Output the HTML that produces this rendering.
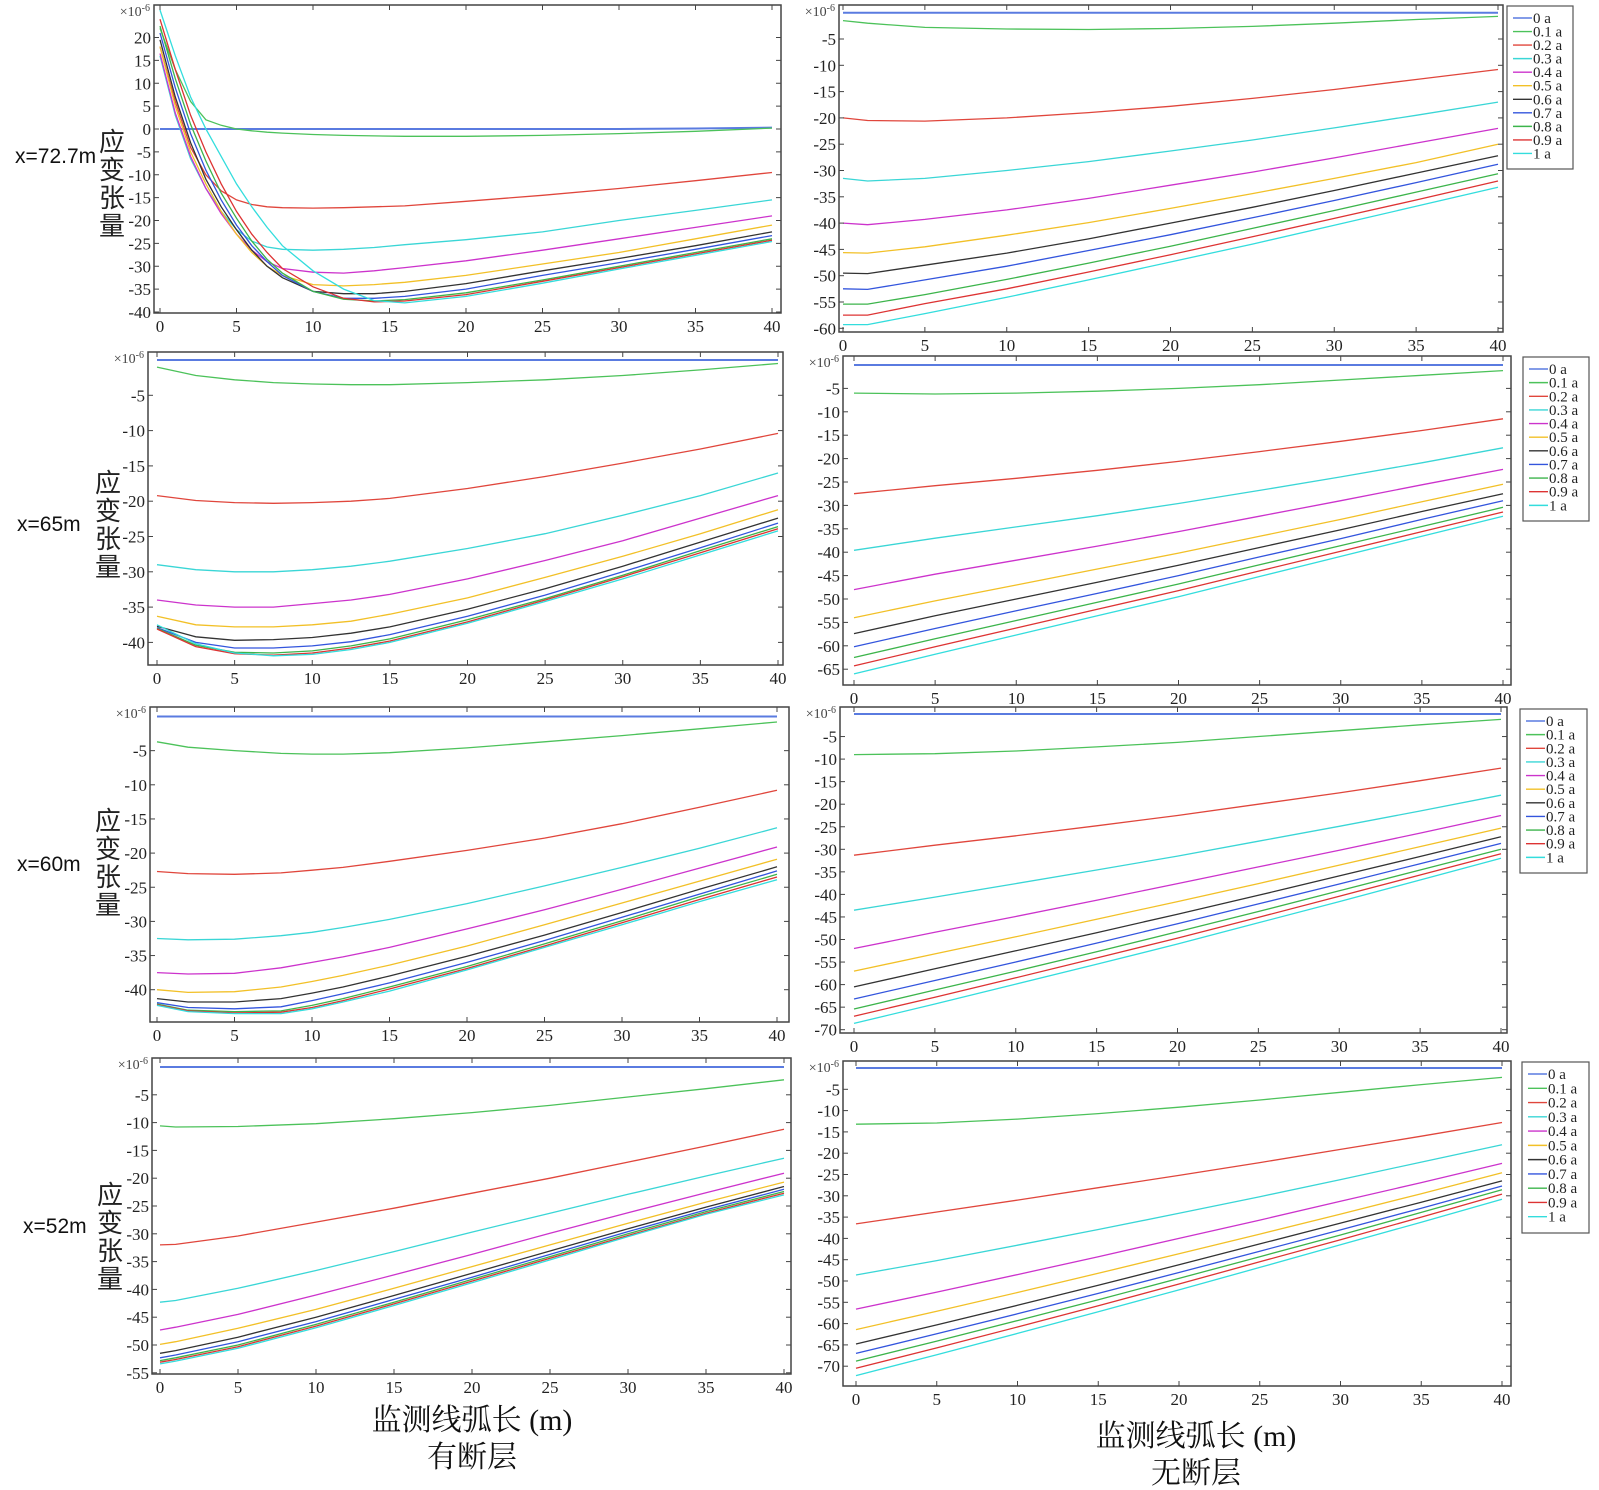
<!DOCTYPE html>
<html><head><meta charset="utf-8"><style>
html,body{margin:0;padding:0;background:#fff;}
svg{display:block;}
text{font-family:"Liberation Serif","Noto Serif CJK SC",serif;}
.cn{font-family:"Liberation Sans","Noto Sans CJK SC",sans-serif;}
</style></head><body>
<svg id="fig" width="1599" height="1490" viewBox="0 0 1599 1490" xmlns="http://www.w3.org/2000/svg"></svg>
<script>
const seriesNames=["0 a","0.1 a","0.2 a","0.3 a","0.4 a","0.5 a","0.6 a","0.7 a","0.8 a","0.9 a","1 a"];
const seriesColors=["#5a7be0","#4cc25a","#e0463c","#3ad6d6","#cc33cc","#f2c027","#333333","#3355dd","#3cb44b","#dd3333","#33dddd"];
const xTicks=[0,5,10,15,20,25,30,35,40];

const p1X=[0,1,2,3,4,5,6,7,8,10,12,14,16,20,25,30,35,40];
const p1Y=[
[0,0,0,0,0,0,0,0,0,0,0,0,0,0,0,0,0.1,0.3],
[22,13,6,2,0.8,0,-0.4,-0.7,-0.9,-1.2,-1.4,-1.5,-1.6,-1.6,-1.4,-1,-0.5,0.2],
[18,6,-4,-10,-13.5,-15.5,-16.5,-17,-17.2,-17.3,-17.2,-17,-16.8,-15.8,-14.5,-13,-11.3,-9.5],
[16,3,-6.5,-13,-18,-22,-24.5,-25.8,-26.3,-26.5,-26.3,-25.9,-25.3,-24.2,-22.5,-20,-17.8,-15.5],
[16.5,3.5,-6,-13,-18.5,-23,-26.5,-29,-30.5,-31.3,-31.5,-31,-30.3,-28.8,-26.5,-24,-21.5,-19],
[18,5,-5,-12,-18,-23,-27,-30,-32,-34,-34.3,-34,-33.5,-32,-29.5,-27,-24,-21],
[19.5,7,-3,-11,-17,-22,-26.5,-30,-32.5,-35.5,-36,-36,-35.5,-33.8,-31,-28.3,-25.5,-22.5],
[21,9,-1,-9,-15.5,-21,-25.5,-29,-32,-35.5,-37,-37,-36.6,-35,-32,-29.2,-26.3,-23.3],
[22.5,11,1,-7,-14,-19.5,-24.5,-28.5,-31.5,-35.5,-37.2,-37.6,-37.3,-35.8,-33,-30,-27,-24],
[24,13,3,-5,-12,-18,-23,-27,-30.5,-34.5,-37,-37.8,-37.6,-36.2,-33.3,-30.3,-27.3,-24.3],
[26,16,7,0,-6,-12,-17,-21.5,-25.5,-31,-35,-37.5,-38,-36.6,-33.7,-30.6,-27.6,-24.6]];
const p1Ticks=[20,15,10,5,0,-5,-10,-15,-20,-25,-30,-35,-40];

const p2X=[0,1.5,5,10,15,20,25,30,35,40];
const p2Y=[
[0,0,0,0,0,0,0,0,0,0],
[-1.5,-2,-2.8,-3.1,-3.2,-3,-2.6,-2,-1.3,-0.7],
[-20,-20.5,-20.6,-20,-19,-17.8,-16.3,-14.6,-12.7,-10.8],
[-31.5,-32,-31.5,-30,-28.3,-26.3,-24.2,-21.9,-19.5,-17],
[-40,-40.3,-39.3,-37.5,-35.3,-32.8,-30.3,-27.6,-24.8,-22],
[-45.6,-45.7,-44.5,-42.3,-39.9,-37.2,-34.4,-31.5,-28.5,-25],
[-49.5,-49.6,-48,-45.7,-43,-40,-37,-33.8,-30.5,-27.2],
[-52.5,-52.6,-50.8,-48.2,-45.2,-42.2,-39,-35.7,-32.3,-28.8],
[-55.4,-55.4,-53.6,-50.7,-47.6,-44.4,-41,-37.6,-34.1,-30.6],
[-57.5,-57.5,-55.3,-52.5,-49.3,-46,-42.6,-39.1,-35.6,-32],
[-59.3,-59.3,-57.2,-54.1,-50.8,-47.4,-44,-40.4,-36.8,-33.2]];
const p2Ticks=[-5,-10,-15,-20,-25,-30,-35,-40,-45,-50,-55,-60];

const p3X=[0,2.5,5,7.5,10,12.5,15,20,25,30,35,40];
const p3Y=[
[0,0,0,0,0,0,0,0,0,0,0,0],
[-1,-2.2,-2.8,-3.2,-3.4,-3.5,-3.5,-3.2,-2.8,-2.2,-1.4,-0.5],
[-19.2,-19.9,-20.2,-20.3,-20.2,-20,-19.6,-18.2,-16.5,-14.6,-12.6,-10.4],
[-29,-29.7,-30,-30,-29.7,-29.2,-28.5,-26.7,-24.6,-22,-19.2,-16],
[-34,-34.7,-35,-35,-34.5,-34,-33.2,-31,-28.4,-25.6,-22.4,-19.2],
[-36.3,-37.5,-37.8,-37.8,-37.5,-37,-36,-33.7,-30.8,-27.8,-24.6,-21.2],
[-37.7,-39.2,-39.7,-39.6,-39.3,-38.7,-37.8,-35.3,-32.4,-29.2,-25.8,-22.4],
[-37.9,-40,-40.8,-40.8,-40.5,-39.9,-38.9,-36.3,-33.3,-30,-26.6,-23.1],
[-38,-40.4,-41.4,-41.5,-41.2,-40.5,-39.5,-36.8,-33.8,-30.5,-27,-23.6],
[-38.1,-40.6,-41.6,-41.8,-41.5,-40.8,-39.8,-37.1,-34,-30.7,-27.3,-23.9],
[-37.5,-40.2,-41.5,-41.9,-41.7,-41,-40,-37.3,-34.2,-31,-27.6,-24.2]];
const p3Ticks=[-5,-10,-15,-20,-25,-30,-35,-40];

const p4X=[0,5,10,15,20,25,30,35,40];
const p4Y=[
[0,0,0,0,0,0,0,0,0],
[-6,-6.2,-6,-5.6,-5,-4.2,-3.2,-2.2,-1.2],
[-27.5,-25.8,-24.2,-22.5,-20.6,-18.5,-16.3,-14,-11.5],
[-39.6,-37,-34.6,-32.2,-29.6,-26.8,-23.9,-20.9,-17.7],
[-48,-44.7,-41.7,-38.7,-35.6,-32.3,-29,-25.6,-22.3],
[-54,-50.4,-47,-43.6,-40.2,-36.6,-33,-29.2,-25.5],
[-57.4,-53.6,-50,-46.4,-42.8,-39,-35.2,-31.3,-27.5],
[-60.2,-56.3,-52.5,-48.8,-45,-41,-37.1,-33,-29],
[-62.5,-58.5,-54.6,-50.7,-46.8,-42.7,-38.6,-34.5,-30.4],
[-64.3,-60.2,-56.2,-52.2,-48.2,-44,-39.8,-35.6,-31.4],
[-66,-61.8,-57.7,-53.6,-49.5,-45.2,-40.9,-36.6,-32.3]];
const p4Ticks=[-5,-10,-15,-20,-25,-30,-35,-40,-45,-50,-55,-60,-65];

const p5X=[0,2,5,8,10,12,15,20,25,30,35,40];
const p5Y=[
[0,0,0,0,0,0,0,0,0,0,0,0],
[-3.7,-4.5,-5,-5.4,-5.5,-5.5,-5.3,-4.6,-3.7,-2.8,-1.8,-0.8],
[-22.7,-23,-23.1,-22.9,-22.5,-22.1,-21.2,-19.6,-17.8,-15.7,-13.3,-10.8],
[-32.5,-32.7,-32.6,-32.1,-31.6,-30.9,-29.7,-27.4,-24.8,-22.1,-19.3,-16.3],
[-37.5,-37.7,-37.6,-36.8,-36,-35.2,-33.8,-31.1,-28.3,-25.3,-22.2,-19.1],
[-40,-40.4,-40.3,-39.6,-38.8,-37.9,-36.4,-33.6,-30.5,-27.3,-24.1,-20.9],
[-41.3,-41.8,-41.8,-41.3,-40.5,-39.6,-38,-35.1,-32,-28.7,-25.3,-22],
[-41.9,-42.6,-42.8,-42.5,-41.6,-40.6,-39,-36,-32.8,-29.4,-26,-22.6],
[-42.1,-43,-43.2,-43.1,-42.3,-41.3,-39.6,-36.6,-33.3,-29.9,-26.4,-23.1],
[-42.2,-43.1,-43.4,-43.3,-42.6,-41.6,-39.9,-36.9,-33.6,-30.2,-26.8,-23.5],
[-42.3,-43.2,-43.5,-43.5,-42.8,-41.8,-40.2,-37.1,-33.8,-30.5,-27.1,-23.9]];
const p5Ticks=[-5,-10,-15,-20,-25,-30,-35,-40];

const p6X=[0,5,10,15,20,25,30,35,40];
const p6Y=[
[0,0,0,0,0,0,0,0,0],
[-9,-8.8,-8.2,-7.3,-6.3,-5,-3.7,-2.4,-1.2],
[-31.3,-29.1,-27,-24.8,-22.5,-20,-17.5,-14.8,-12],
[-43.5,-40.6,-37.6,-34.6,-31.5,-28.2,-24.9,-21.5,-18],
[-52,-48.4,-44.9,-41.3,-37.6,-33.9,-30.2,-26.4,-22.5],
[-57,-53.2,-49.4,-45.5,-41.6,-37.6,-33.5,-29.4,-25.3],
[-60.5,-56.5,-52.5,-48.5,-44.4,-40.2,-35.9,-31.6,-27.2],
[-63.2,-59.1,-55,-50.8,-46.5,-42.1,-37.7,-33.2,-28.7],
[-65.4,-61.2,-57,-52.7,-48.3,-43.8,-39.2,-34.6,-30],
[-67,-62.8,-58.5,-54.1,-49.7,-45.1,-40.4,-35.7,-31],
[-68.6,-64.3,-59.9,-55.5,-51,-46.3,-41.6,-36.8,-32]];
const p6Ticks=[-5,-10,-15,-20,-25,-30,-35,-40,-45,-50,-55,-60,-65,-70];

const p7X=[0,1,5,10,15,20,25,30,35,40];
const p7Y=[
[0,0,0,0,0,0,0,0,0,0],
[-10.6,-10.8,-10.7,-10.2,-9.3,-8.2,-6.9,-5.4,-3.9,-2.3],
[-32,-31.9,-30.4,-27.9,-25.4,-22.7,-20,-17.1,-14.2,-11.2],
[-42.3,-42,-39.8,-36.6,-33.2,-29.7,-26.3,-22.9,-19.6,-16.4],
[-47.3,-46.8,-44.5,-41,-37.4,-33.7,-29.9,-26.2,-22.6,-19.1],
[-49.9,-49.4,-47,-43.6,-39.8,-35.9,-32,-28.1,-24.3,-20.7],
[-51.5,-51,-48.6,-45,-41.1,-37.1,-33.1,-29.1,-25.2,-21.5],
[-52.3,-51.8,-49.4,-45.8,-41.8,-37.8,-33.7,-29.6,-25.7,-22],
[-52.8,-52.3,-50,-46.3,-42.3,-38.2,-34.1,-30,-26,-22.4],
[-53.1,-52.6,-50.3,-46.6,-42.6,-38.5,-34.4,-30.3,-26.3,-22.7],
[-53.4,-52.9,-50.6,-46.9,-42.9,-38.8,-34.7,-30.5,-26.5,-23]];
const p7Ticks=[-5,-10,-15,-20,-25,-30,-35,-40,-45,-50,-55];

const p8X=[0,5,10,15,20,25,30,35,40];
const p8Y=[
[0,0,0,0,0,0,0,0,0],
[-13.2,-12.9,-12,-10.7,-9.2,-7.5,-5.7,-3.9,-2.2],
[-36.6,-33.8,-31,-28.1,-25.2,-22.2,-19.1,-16,-12.8],
[-48.6,-45.2,-41.6,-37.9,-34.1,-30.2,-26.2,-22.1,-18],
[-56.6,-52.6,-48.5,-44.3,-40,-35.7,-31.3,-26.9,-22.4],
[-61.4,-57.1,-52.7,-48.2,-43.6,-39,-34.3,-29.5,-24.6],
[-64.8,-60.3,-55.7,-51,-46.2,-41.3,-36.4,-31.5,-26.5],
[-67,-62.4,-57.7,-52.9,-48,-43,-38,-32.9,-27.7],
[-68.8,-64.1,-59.3,-54.4,-49.4,-44.3,-39.2,-33.9,-28.6],
[-70.5,-65.7,-60.8,-55.8,-50.7,-45.5,-40.3,-35,-29.6],
[-72.2,-67.3,-62.3,-57.2,-52.1,-46.8,-41.5,-36.2,-30.8]];
const p8Ticks=[-5,-10,-15,-20,-25,-30,-35,-40,-45,-50,-55,-60,-65,-70];

const NS="http://www.w3.org/2000/svg";
const svg=document.getElementById('fig');
function mk(tag,attrs,parent){const e=document.createElementNS(NS,tag);for(const k in attrs)e.setAttribute(k,attrs[k]);(parent||svg).appendChild(e);return e;}

function drawPanel(id,X,Y,yTicks,g,legend){
  const grp=mk('g',{});
  
  
  const [l,t,r,b]=g.box;
  const sx=v=>g.x0+(g.x40-g.x0)*v/40;
  const sy=v=>g.y0-g.unit*v;
  const clipId='clip-'+id;
  const cp=mk('clipPath',{id:clipId},grp);mk('rect',{x:l,y:t,width:r-l,height:b-t},cp);
  // series
  const lines=mk('g',{'clip-path':'url(#'+clipId+')'},grp);
  for(let s=0;s<Y.length;s++){
    const d=X.map((x,i)=>(i?'L':'M')+sx(x).toFixed(1)+','+sy(Y[s][i]).toFixed(1)).join(' ');
    const p=mk('path',{d:d,fill:'none',stroke:seriesColors[s],'stroke-width':s===0?2:1.3},lines);
    
    
  }
  // box
  const bx=mk('rect',{x:l,y:t,width:r-l,height:b-t,fill:'none',stroke:'#444','stroke-width':1.5},grp);
  
  
  // x ticks
  for(const v of xTicks){
    const x=sx(v);
    mk('line',{x1:x,y1:b,x2:x,y2:b-5,stroke:'#444'},grp);
    mk('line',{x1:x,y1:t,x2:x,y2:t+5,stroke:'#444'},grp);
    const tx=mk('text',{x:x,y:b+19,'font-size':17,'text-anchor':'middle',fill:'#222'},grp);
    tx.textContent=v;
    
    
  }
  for(const v of yTicks){
    const y=sy(v);
    mk('line',{x1:l,y1:y,x2:l+5,y2:y,stroke:'#444'},grp);
    mk('line',{x1:r,y1:y,x2:r-5,y2:y,stroke:'#444'},grp);
    const ty=mk('text',{x:l-3,y:y+6,'font-size':17,'text-anchor':'end',fill:'#222'},grp);
    ty.textContent=v;
    
    
  }
  const ex=mk('text',{x:l-4,y:t+11,'font-size':14,'text-anchor':'end',fill:'#444'},grp);
  ex.textContent='×10';
  const sup=mk('tspan',{dy:-5,'font-size':10},ex);sup.textContent='-6';
  
  
  if(legend){
    const [lx,ly,lw,lh]=legend;
    const lg=mk('g',{},grp);
    
    
    mk('rect',{x:lx,y:ly,width:lw,height:lh,fill:'#fff',stroke:'#555','stroke-width':1.2},lg);
    const step=(lh-14)/11;
    for(let s=0;s<11;s++){
      const yy=ly+12+step*s;
      mk('line',{x1:lx+6,y1:yy,x2:lx+25,y2:yy,stroke:seriesColors[s],'stroke-width':1.4},lg);
      const lt=mk('text',{x:lx+26,y:yy+5,'font-size':15,fill:'#222'},lg);
      lt.textContent=seriesNames[s];
      
      
    }
  }
}

drawPanel('panel-72p7m-fault',p1X,p1Y,p1Ticks,{box:[154,5,781,313],x0:160,x40:772,y0:129,unit:4.575});
drawPanel('panel-72p7m-nofault',p2X,p2Y,p2Ticks,{box:[839,5,1503,332],x0:843,x40:1498,y0:12.7,unit:5.26},[1507,6,66,163]);
drawPanel('panel-65m-fault',p3X,p3Y,p3Ticks,{box:[148,352,783,665],x0:157,x40:778,y0:360,unit:7.06});
drawPanel('panel-65m-nofault',p4X,p4Y,p4Ticks,{box:[843,356,1511,685],x0:854,x40:1503,y0:365,unit:4.68},[1523,357,66,164]);
drawPanel('panel-60m-fault',p5X,p5Y,p5Ticks,{box:[150,707,789,1022],x0:157,x40:777,y0:716.5,unit:6.83});
drawPanel('panel-60m-nofault',p6X,p6Y,p6Ticks,{box:[840,707,1507,1033],x0:854,x40:1501,y0:714,unit:4.51},[1520,709,67,164]);
drawPanel('panel-52m-fault',p7X,p7Y,p7Ticks,{box:[152,1058,791,1374],x0:160,x40:784,y0:1067,unit:5.56});
drawPanel('panel-52m-nofault',p8X,p8Y,p8Ticks,{box:[843,1061,1511,1386],x0:856,x40:1502,y0:1068,unit:4.26},[1522,1062,67,171]);

// row labels
const rows=[['x=72.7m',15,163,112,141],['x=65m',17,531,108,482],['x=60m',17,871,108,820],['x=52m',23,1233,110,1194]];
for(const [lab,x,y,cx,cy] of rows){
  const t=mk('text',{x:x,y:y,'font-size':21,class:'cn',fill:'#111'});
  t.textContent=lab;
  
  
  const chars=['应','变','张','量'];
  for(let i=0;i<4;i++){
    const c=mk('text',{x:cx,y:cy+i*28+10,'font-size':26,class:'cn','text-anchor':'middle',fill:'#222'});
    c.textContent=chars[i];
    
    
  }
}
const titles=[['监测线弧长 (m)',472,1430],['有断层',472,1467],['监测线弧长 (m)',1196,1446],['无断层',1196,1483]];
for(const [s,x,y] of titles){
  const t=mk('text',{x:x,y:y,'font-size':30,'text-anchor':'middle',fill:'#111'});
  t.textContent=s;
  
  
}
</script>
</body></html>
